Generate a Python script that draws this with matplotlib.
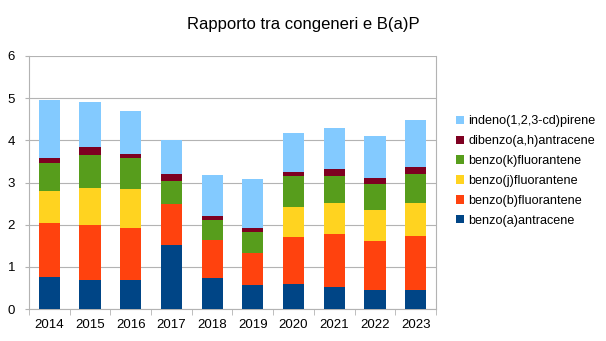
import matplotlib
matplotlib.use("Agg")
import matplotlib.pyplot as plt
from matplotlib.patches import Patch
import numpy as np

plt.rcParams['font.family'] = ['Liberation Sans', 'DejaVu Sans']

years = ["2014", "2015", "2016", "2017", "2018", "2019", "2020", "2021", "2022", "2023"]
series_names = ["benzo(a)antracene", "benzo(b)fluorantene", "benzo(j)fluorantene",
                "benzo(k)fluorantene", "dibenzo(a,h)antracene", "indeno(1,2,3-cd)pirene"]
colors = ["#004586", "#ff420e", "#ffd320", "#579d1c", "#7e0021", "#83caff"]

benzo_a_antracene = [0.76, 0.69, 0.69, 1.52, 0.74, 0.57, 0.59, 0.52, 0.45, 0.45]
benzo_b_fluorantene = [1.28, 1.30, 1.23, 0.98, 0.90, 0.76, 1.12, 1.26, 1.16, 1.28]
benzo_j_fluorantene = [0.76, 0.89, 0.93, 0.00, 0.00, 0.00, 0.71, 0.73, 0.74, 0.78]
benzo_k_fluorantene = [0.66, 0.77, 0.73, 0.53, 0.47, 0.50, 0.73, 0.64, 0.61, 0.69]
dibenzo_ah_antracene = [0.12, 0.19, 0.10, 0.17, 0.10, 0.09, 0.10, 0.17, 0.15, 0.17]
indeno_pirene = [1.37, 1.07, 1.02, 0.81, 0.97, 1.16, 0.92, 0.97, 0.99, 1.11]

data = [benzo_a_antracene, benzo_b_fluorantene, benzo_j_fluorantene,
        benzo_k_fluorantene, dibenzo_ah_antracene, indeno_pirene]

fig = plt.figure(figsize=(6.06, 3.41), dpi=100)
ax = fig.add_axes([29/606, 32/341, 407/606, 253/341])

x = np.arange(len(years))
bottom = np.zeros(len(years))
for vals, c in zip(data, colors):
    vals = np.array(vals)
    ax.bar(x, vals, width=0.52, bottom=bottom, color=c, zorder=3, linewidth=0)
    bottom += vals

ax.set_xlim(-0.5, len(years) - 0.5)
ax.set_ylim(0, 6)
ax.set_yticks(range(0, 7))
ax.set_xticks(x)
ax.set_xticklabels(years)
ax.set_xticks(np.arange(-0.5, len(years), 1.0), minor=True)
ax.tick_params(axis='x', which='major', length=0, labelsize=9.5, pad=7, colors='#000000')
ax.tick_params(axis='x', which='minor', length=4, color='#b3b3b3', direction='out')
ax.tick_params(axis='y', length=3, color='#b3b3b3', labelsize=9.5, pad=7)
ax.grid(axis='y', color='#b3b3b3', linewidth=0.8, zorder=0)
for s in ['top']:
    ax.spines[s].set_visible(False)
for s in ['left', 'bottom', 'right']:
    ax.spines[s].set_color('#b3b3b3')
    ax.spines[s].set_linewidth(0.8)

handles = [Patch(facecolor=c, edgecolor='none', label=n) for n, c in zip(series_names, colors)]
handles = handles[::-1]
fig.legend(handles=handles, loc='center left', bbox_to_anchor=(451/606, 1 - 171/341),
           frameon=False, fontsize=9.1, handlelength=0.65, handleheight=0.65,
           handletextpad=0.3, labelspacing=0.62, borderaxespad=0)

fig.text(0.5, 1 - 25/341, "Rapporto tra congeneri e B(a)P", ha='center', va='center', fontsize=12)

fig.savefig("out.png", dpi=100)
